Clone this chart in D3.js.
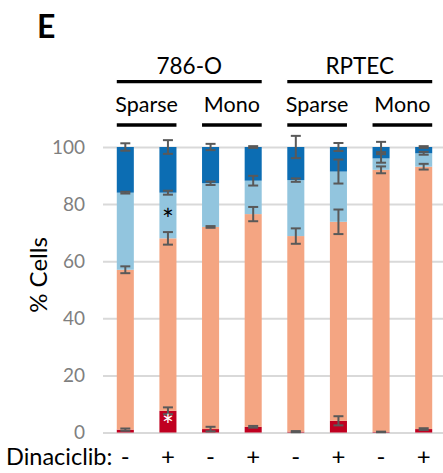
<!DOCTYPE html>
<html>
<head>
<meta charset="utf-8">
<script src="https://cdn.jsdelivr.net/npm/d3@7"></script>
<style>
  body { margin: 0; background: #fff; }
  text { font-family: Lato, "Noto Sans", sans-serif; }
</style>
</head>
<body>
<svg width="443" height="473"></svg>
<script>
// bars, left to right
const bars = ["786-O Sparse -", "786-O Sparse +", "786-O Mono -", "786-O Mono +",
              "RPTEC Sparse -", "RPTEC Sparse +", "RPTEC Mono -", "RPTEC Mono +"];
const cellLines = ["786-O", "RPTEC"];
const densities = ["Sparse", "Mono", "Sparse", "Mono"];
const dinaciclib = ["-", "+", "-", "+", "-", "+", "-", "+"];

// stacked segments (% cells), bottom to top
const red       = [1.0, 7.6, 1.2, 2.0, 0.3, 4.1, 0.2, 1.2];
const orange    = [56.0, 60.4, 70.8, 74.5, 68.5, 69.7, 91.8, 91.9];
const lightBlue = [27.0, 16.0, 15.3, 11.7, 19.6, 17.6, 4.0, 4.7];
const darkBlue  = [16.0, 16.0, 12.7, 11.8, 11.6, 8.6, 4.0, 2.2];

// error bars (at top of each segment)
const redErr       = [0.4, 1.2, 0.8, 0.3, 0.2, 1.6, 0.1, 0.3];
const orangeErr    = [1.2, 2.2, 0.3, 2.5, 2.7, 4.3, 1.2, 1.0];
const lightBlueErr = [0.3, 0.7, 0.6, 1.7, 0.6, 4.2, 1.5, 0.5];
const darkBlueErr  = [1.3, 2.4, 1.1, 0.3, 3.9, 1.4, 1.8, 0.3];

const yTicks = [0, 20, 40, 60, 80, 100];

// significance marks: [bar index, segment index, colour]
const stars = [[1, 2, "#000"], [1, 0, "#fff"]];

const series = [red, orange, lightBlue, darkBlue];
const errs = [redErr, orangeErr, lightBlueErr, darkBlueErr];
const colors = ["#C00020", "#F4A582", "#92C5DE", "#0C6DB3"];

const svg = d3.select("svg");

const x = d3.scaleBand()
  .domain(bars)
  .range([104, 445])
  .paddingInner(0.6)
  .paddingOuter(0.3);

const y = d3.scaleLinear()
  .domain([0, 100])
  .range([432.5, 147]);

// y axis with gridlines
const yAxis = svg.append("g")
  .attr("transform", "translate(103,0)")
  .call(d3.axisLeft(y).tickValues(yTicks).tickSize(-342).tickPadding(18));
yAxis.select(".domain").remove();
yAxis.selectAll(".tick line").attr("stroke", "#d9d9d9").attr("stroke-width", 2);
yAxis.selectAll(".tick text")
  .attr("fill", "#7f7f7f")
  .style("font-size", "19px");

// stack
const rows = bars.map((b, i) => {
  const r = {bar: b};
  series.forEach((s, k) => r["s" + k] = s[i]);
  return r;
});
const stacked = d3.stack().keys(series.map((s, k) => "s" + k))(rows);

svg.append("g")
  .selectAll("g")
  .data(stacked)
  .join("g")
    .attr("fill", (d, k) => colors[k])
  .selectAll("rect")
  .data(d => d)
  .join("rect")
    .attr("x", d => x(d.data.bar))
    .attr("y", d => y(d[1]))
    .attr("width", x.bandwidth())
    .attr("height", d => y(d[0]) - y(d[1]));

// error bars
const errData = [];
stacked.forEach((layer, k) => {
  layer.forEach((d, i) => errData.push({bar: d.data.bar, top: d[1], e: errs[k][i]}));
});
const cap = 5;
const eg = svg.append("g")
  .attr("stroke", "#595959")
  .attr("stroke-width", 2)
  .selectAll("g")
  .data(errData)
  .join("g")
    .attr("transform", d => `translate(${x(d.bar) + x.bandwidth() / 2},0)`);
eg.append("line")
  .attr("y1", d => y(d.top + d.e))
  .attr("y2", d => y(d.top - d.e));
eg.append("line")
  .attr("x1", -cap).attr("x2", cap)
  .attr("y1", d => y(d.top + d.e)).attr("y2", d => y(d.top + d.e));
eg.append("line")
  .attr("x1", -cap).attr("x2", cap)
  .attr("y1", d => y(d.top - d.e)).attr("y2", d => y(d.top - d.e));

// asterisks, centred in their segment
const starSize = 28;
svg.append("g")
  .selectAll("text")
  .data(stars)
  .join("text")
    .attr("x", d => x(bars[d[0]]) + x.bandwidth() / 2)
    .attr("y", d => {
      const seg = stacked[d[1]][d[0]];
      return y((seg[0] + seg[1]) / 2) + starSize * 0.5;
    })
    .attr("text-anchor", "middle")
    .attr("fill", d => d[2])
    .style("font-size", starSize + "px")
    .text("*");

// header brackets
const lineW = 3.3;
const groupSpan = (i0, i1) => [x(bars[i0]), x(bars[i1]) + x.bandwidth()];

cellLines.forEach((name, g) => {
  const [a, b] = groupSpan(g * 4, g * 4 + 3);
  svg.append("text")
    .attr("x", (a + b) / 2).attr("y", 73.5)
    .attr("text-anchor", "middle")
    .style("font-size", "22.5px")
    .text(name);
  svg.append("line")
    .attr("x1", a).attr("x2", b)
    .attr("y1", 81.7).attr("y2", 81.7)
    .attr("stroke", "#000").attr("stroke-width", lineW);
});

densities.forEach((name, g) => {
  const [a, b] = groupSpan(g * 2, g * 2 + 1);
  svg.append("text")
    .attr("x", (a + b) / 2).attr("y", 111.7)
    .attr("text-anchor", "middle")
    .style("font-size", "21.5px")
    .text(name);
  svg.append("line")
    .attr("x1", a).attr("x2", b)
    .attr("y1", 125).attr("y2", 125)
    .attr("stroke", "#000").attr("stroke-width", lineW);
});

// panel letter
svg.append("text")
  .attr("x", 37).attr("y", 38)
  .style("font-size", "32px")
  .style("font-weight", "bold")
  .text("E");

// y label
svg.append("text")
  .attr("transform", "translate(47,275) rotate(-90)")
  .attr("text-anchor", "middle")
  .style("font-size", "24px")
  .text("% Cells");

// treatment row
svg.append("text")
  .attr("x", 6).attr("y", 465)
  .style("font-size", "23.5px")
  .text("Dinaciclib:");
svg.append("g")
  .selectAll("text")
  .data(bars)
  .join("text")
    .attr("x", d => x(d) + x.bandwidth() / 2)
    .attr("y", 465)
    .attr("text-anchor", "middle")
    .style("font-size", "24px")
    .text((d, i) => dinaciclib[i]);
</script>
</body>
</html>
